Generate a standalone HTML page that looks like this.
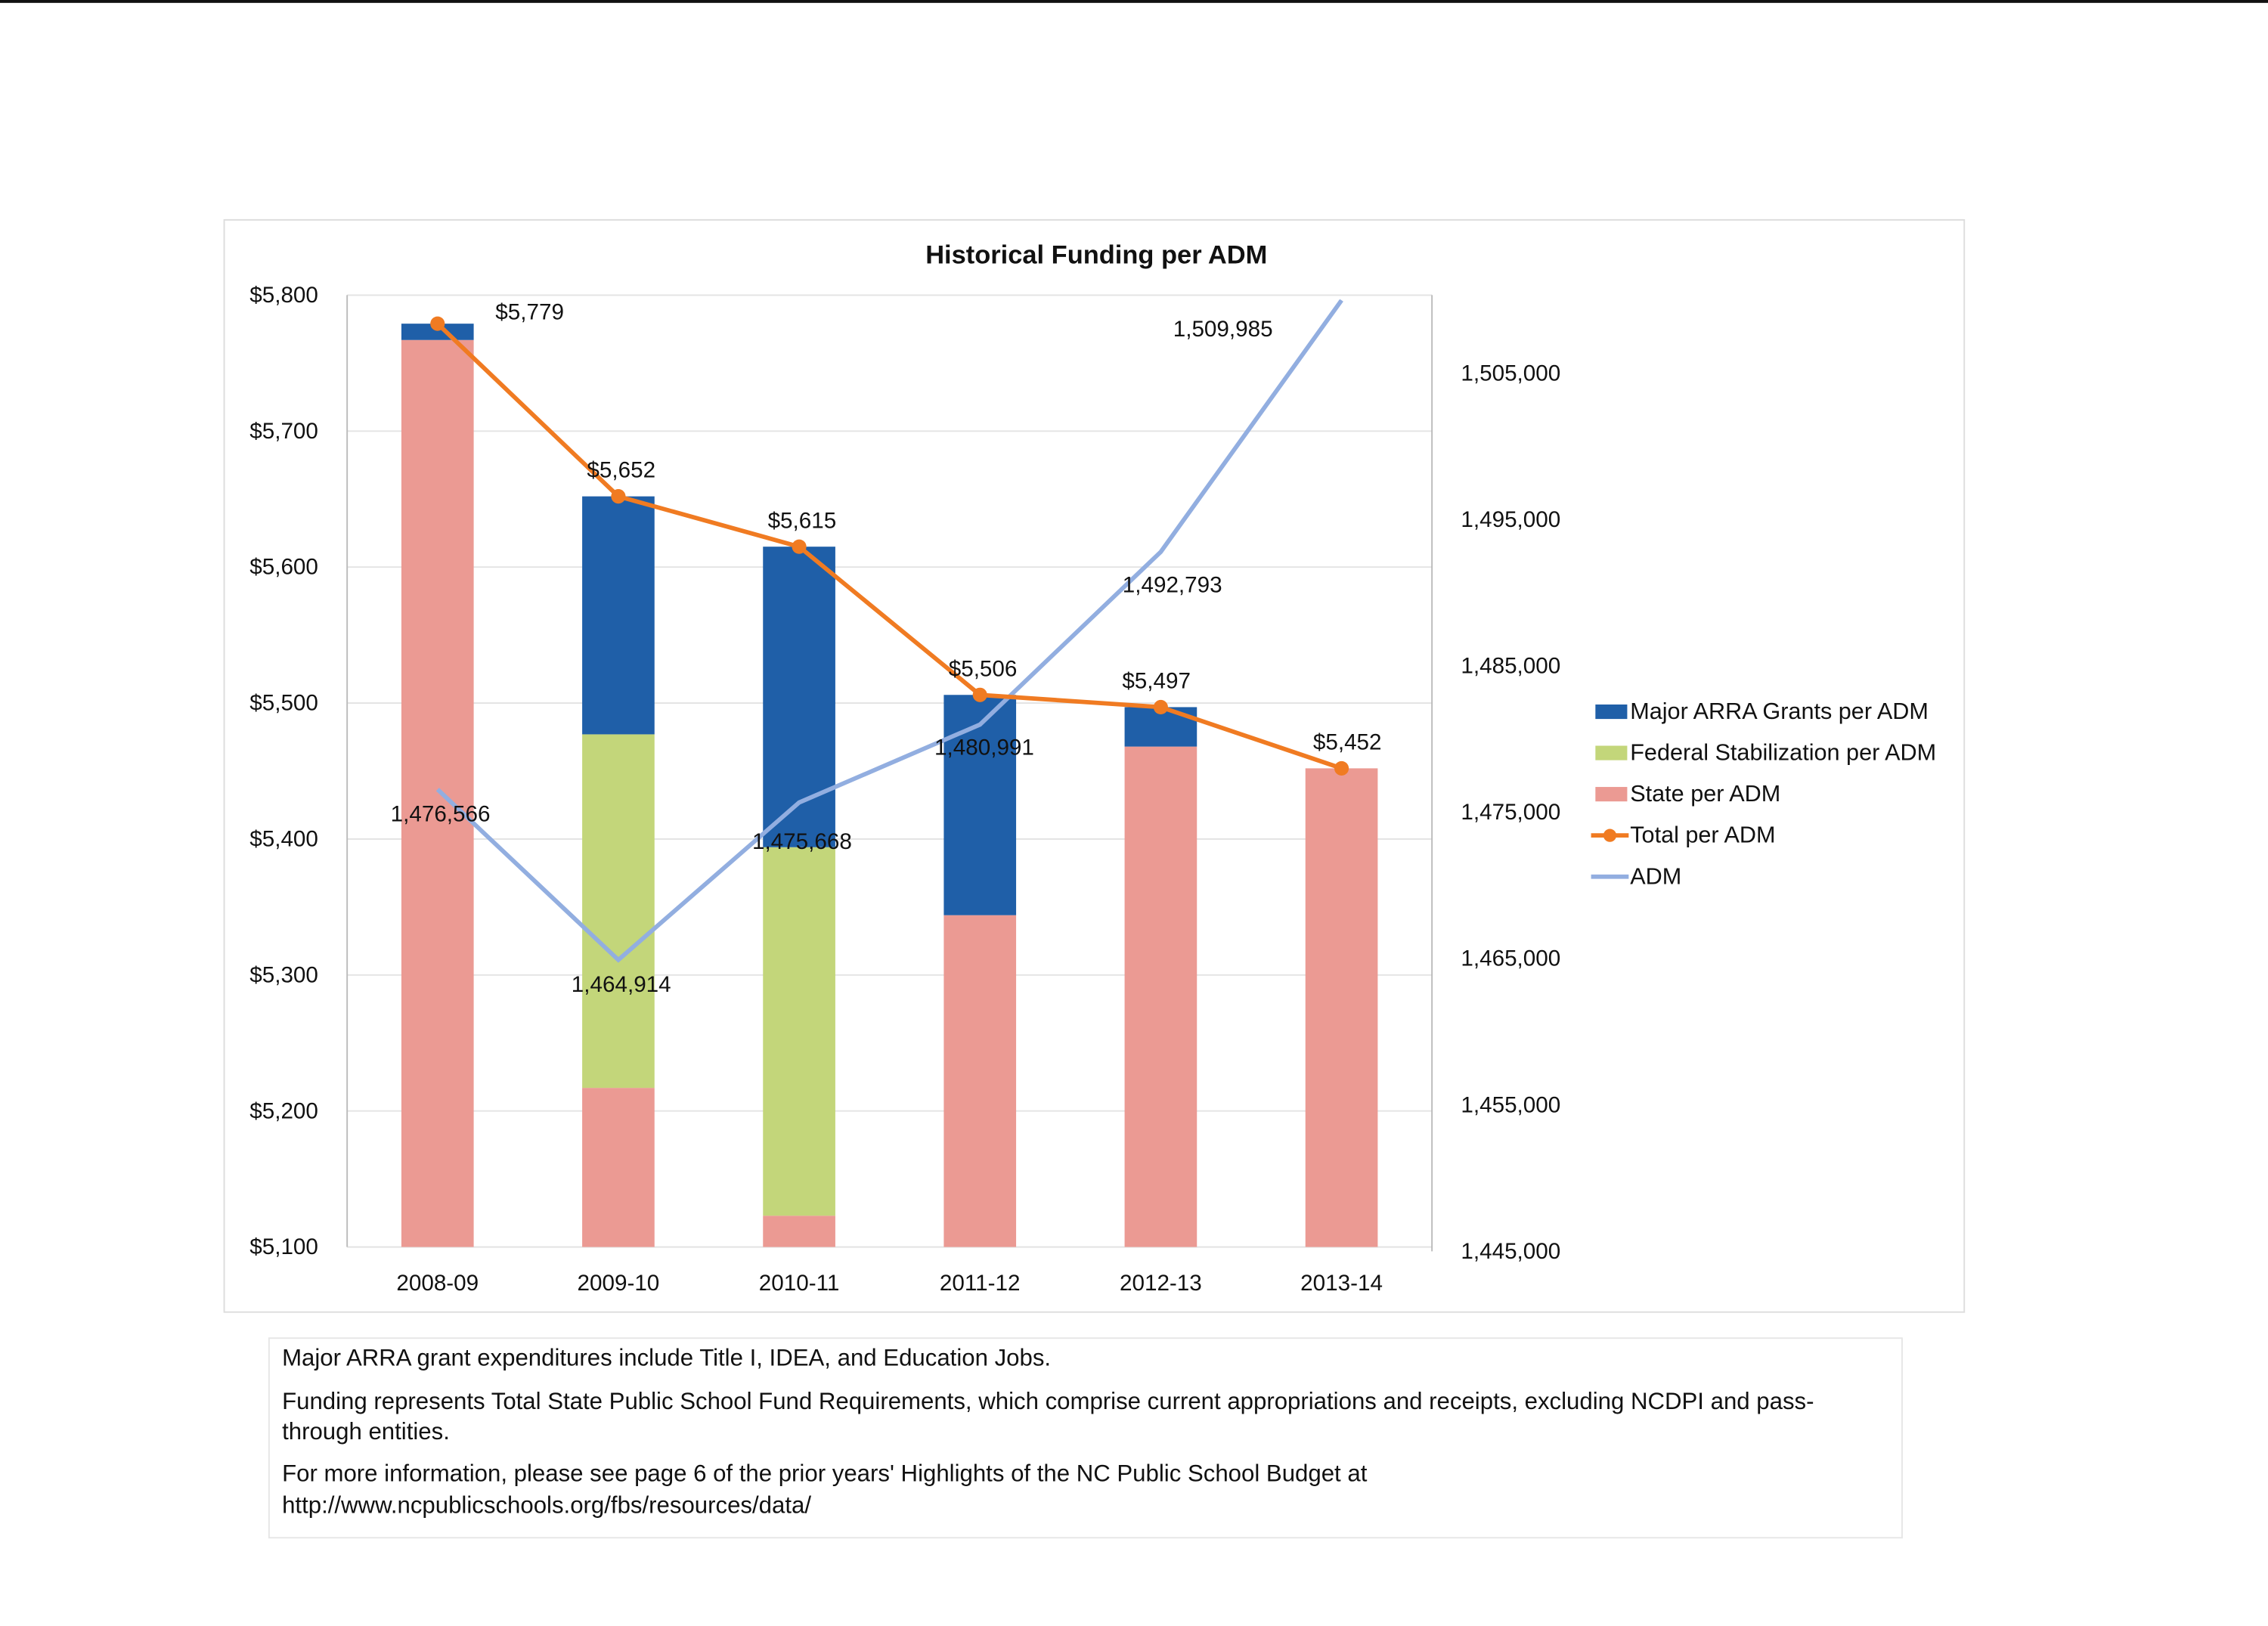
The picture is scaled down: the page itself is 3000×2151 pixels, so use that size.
<!DOCTYPE html>
<html><head><meta charset="utf-8"><style>
html,body{margin:0;padding:0;background:#fff}
svg{display:block}
text{font-family:"Liberation Sans",sans-serif;fill:#111}
</style></head><body>
<svg id="chart" width="3000" height="2151" viewBox="0 0 1568 1124" preserveAspectRatio="none" xmlns="http://www.w3.org/2000/svg">
<rect x="0" y="0" width="1568" height="2" fill="#111"/>
<rect x="155" y="152" width="1203" height="755" fill="none" stroke="#ddd"/>
<text x="758" y="182" text-anchor="middle" font-size="18" font-weight="bold">Historical Funding per ADM</text>
<g id="grid"></g><g id="bars"></g><g id="lines"></g><g id="labels"></g><g id="axes"></g>
<g id="legend"></g>
<rect x="186" y="925" width="1129" height="138" fill="none" stroke="#e6e6e6"/>
<g font-size="16.3">
<text x="195" y="944">Major ARRA grant expenditures include Title I, IDEA, and Education Jobs.</text>
<text x="195" y="974">Funding represents Total State Public School Fund Requirements, which comprise current appropriations  and receipts, excluding NCDPI and pass-</text>
<text x="195" y="995">through entities.</text>
<text x="195" y="1024">For more information, please see  page 6 of the prior years' Highlights of the NC Public School Budget at</text>
<text x="195" y="1046">http://www.ncpublicschools.org/fbs/resources/data/</text>
</g>
</svg>
<script>
const categories=["2008-09","2009-10","2010-11","2011-12","2012-13","2013-14"];
const stateVals=[5767,5217,5123,5344,5468,5452];
const fedVals=[0,260,271,0,0,0];
const arraVals=[12,175,221,162,29,0];
const totalVals=[5779,5652,5615,5506,5497,5452];
const totalLabels=["$5,779","$5,652","$5,615","$5,506","$5,497","$5,452"];
const admVals=[1476566,1464914,1475668,1480991,1492793,1509985];
const admLabels=["1,476,566","1,464,914","1,475,668","1,480,991","1,492,793","1,509,985"];
const leftTicks=[5100,5200,5300,5400,5500,5600,5700,5800];
const rightTicks=[1445000,1455000,1465000,1475000,1485000,1495000,1505000];

const NS="http://www.w3.org/2000/svg";
const px0=240,px1=990;
const yL=v=>862-(v-5100)*(658/700);
const yR=v=>865-(v-1445000)*(607/60000);
const xC=i=>px0+(i+0.5)*(px1-px0)/categories.length;
function mk(tag,attrs,parent,txt){const e=document.createElementNS(NS,tag);for(const k in attrs)e.setAttribute(k,attrs[k]);if(txt!==undefined)e.textContent=txt;document.getElementById(parent).appendChild(e);return e;}

mk("line",{x1:px0,y1:204,x2:px0,y2:862,stroke:"#bbb"},"axes");
mk("line",{x1:px1,y1:204,x2:px1,y2:865,stroke:"#bbb"},"axes");
leftTicks.forEach(t=>{
 const g=mk("line",{x1:px0,x2:px1,y1:yL(t),y2:yL(t),stroke:"#e3e3e3"},"grid");
 
 
 const l=mk("text",{x:220,y:yL(t)+5,"text-anchor":"end","font-size":15.5},"axes","$"+t.toLocaleString("en-US"));
 
 
});
rightTicks.forEach(t=>{
 const l=mk("text",{x:1010,y:yR(t)+5,"font-size":15.5},"axes",t.toLocaleString("en-US"));
 
 
});
categories.forEach((c,i)=>{
 const l=mk("text",{x:xC(i),y:892,"text-anchor":"middle","font-size":15.5},"axes",c);
 
 
 const w=50,x=xC(i)-w/2;
 const s=mk("rect",{x:x,y:yL(stateVals[i]),width:w,height:862-yL(stateVals[i]),fill:"#eb9a93"},"bars");
 
 
 let base=stateVals[i];
 if(fedVals[i]>0){const f=mk("rect",{x:x,y:yL(base+fedVals[i]),width:w,height:yL(base)-yL(base+fedVals[i]),fill:"#c3d67a"},"bars");
  
  
  base+=fedVals[i];}
 if(arraVals[i]>0){const a=mk("rect",{x:x,y:yL(base+arraVals[i]),width:w,height:yL(base)-yL(base+arraVals[i]),fill:"#1f5fa8"},"bars");
  
  }
});
const clip=mk("clipPath",{id:"pc"},"lines");mk("rect",{x:px0,y:207,width:px1-px0,height:660},"pc");
const admPts=admVals.map((v,i)=>xC(i)+","+yR(v)).join(" ");
const adm=mk("polyline",{points:admPts,fill:"none",stroke:"#92aee0","stroke-width":3,"clip-path":"url(#pc)"},"lines");


const tot=mk("polyline",{points:totalVals.map((v,i)=>xC(i)+","+yL(v)).join(" "),fill:"none",stroke:"#f07b22","stroke-width":3},"lines");


totalVals.forEach((v,i)=>{const m=mk("circle",{cx:xC(i),cy:yL(v),r:5,fill:"#f07b22"},"lines");
 
 });
const tOff=[[42,-8],[2,-18],[2,-18],[2,-18],[-3,-18],[4,-18]];
totalVals.forEach((v,i)=>{const l=mk("text",{x:xC(i)+tOff[i][0],y:yL(v)+tOff[i][1]+5,"text-anchor":i==0?"start":"middle","font-size":15.5},"labels",totalLabels[i]);
 if(i==0)l.setAttribute("x",xC(i)+40);
 
 });
const aOff=[[2,22],[2,22],[2,32],[3,21],[8,28],[-82,25]];
admVals.forEach((v,i)=>{const y=Math.max(207,yR(v));const l=mk("text",{x:xC(i)+aOff[i][0],y:y+aOff[i][1],"text-anchor":"middle","font-size":15.5},"labels",admLabels[i]);
 
 });
const leg=[["Major ARRA Grants per ADM","#1f5fa8","box"],["Federal Stabilization per ADM","#c3d67a","box"],["State per ADM","#eb9a93","box"],["Total per ADM","#f07b22","line"],["ADM","#92aee0","line"]];
leg.forEach((e,i)=>{const y=492+i*28.5;
 if(e[2]=="box")mk("rect",{x:1103,y:y-5,width:22,height:10,fill:e[1]},"legend");
 else{mk("line",{x1:1100,x2:1126,y1:y,y2:y,stroke:e[1],"stroke-width":3},"legend");if(i==3)mk("circle",{cx:1113,cy:y,r:4.5,fill:e[1]},"legend");}
 const t=mk("text",{x:1127,y:y+5,"font-size":16},"legend",e[0]);
 
 });
</script>
</body></html>
